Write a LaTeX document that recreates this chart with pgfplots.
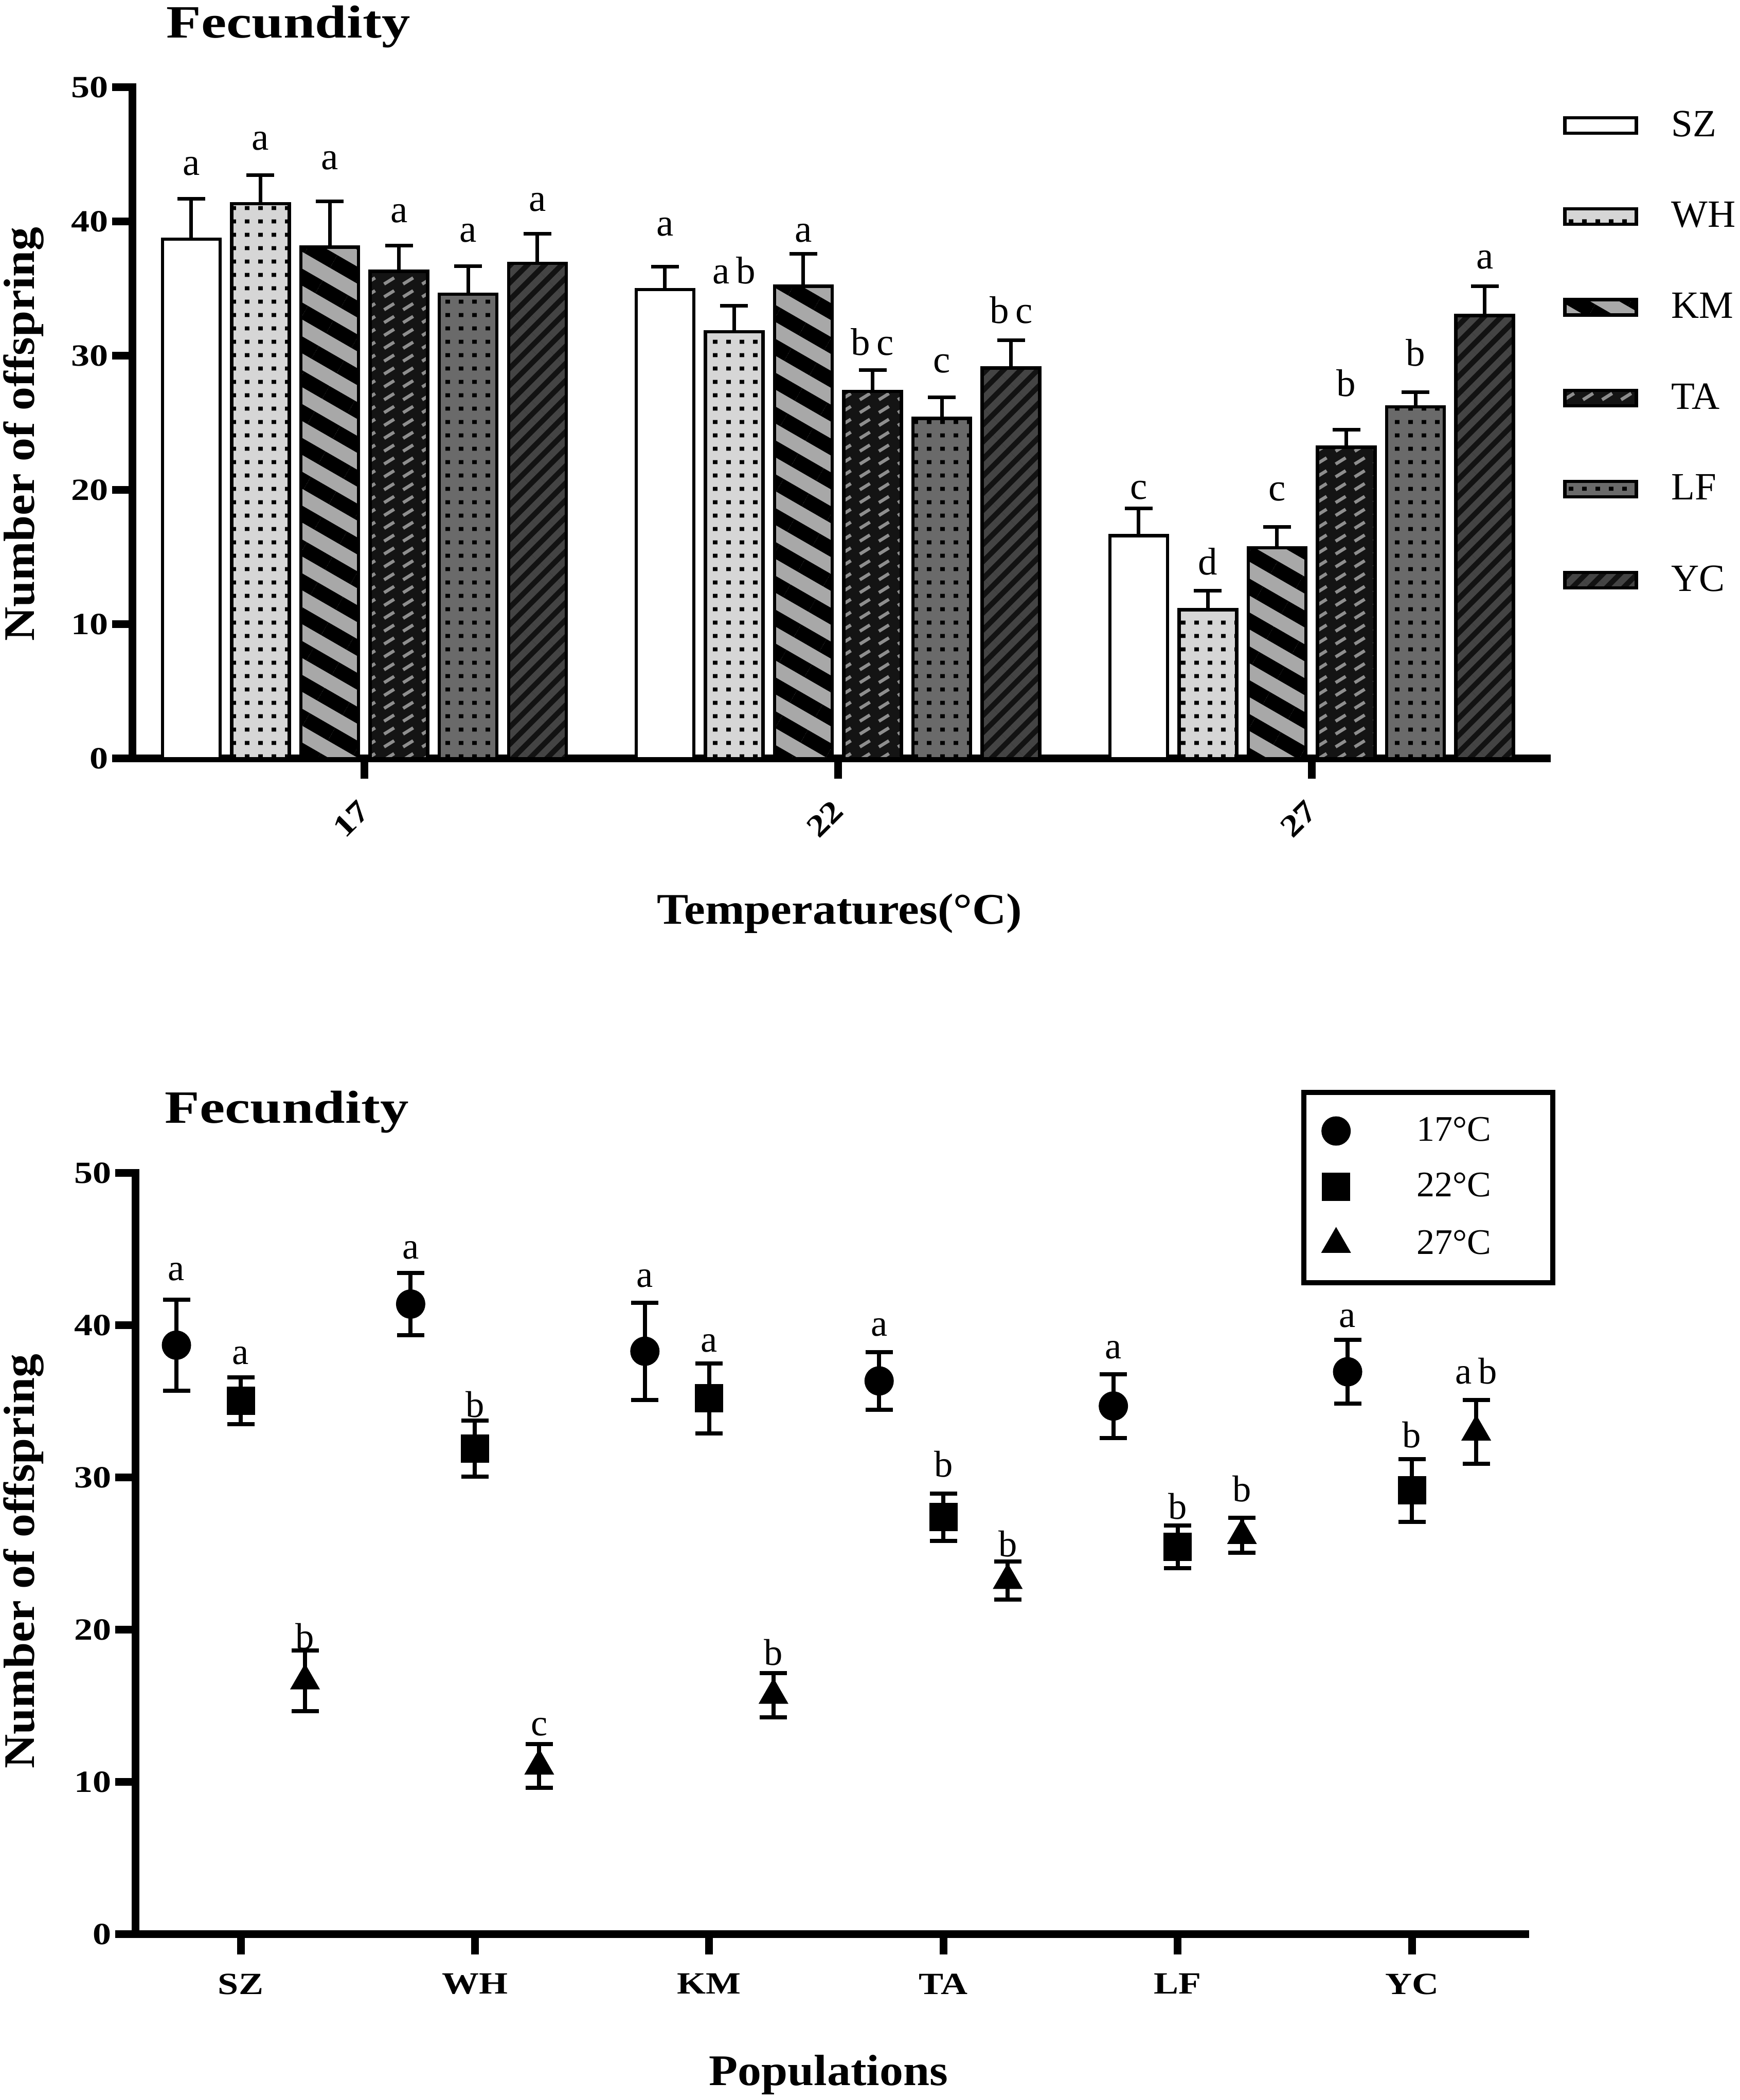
\documentclass[border=0pt]{standalone}
\usepackage{fontspec}
\setmainfont{Liberation Serif}
\newfontfamily\tickfont{Liberation Serif}[FakeStretch=1.2]
\newfontfamily\titlefont{Liberation Serif}[FakeStretch=1.23]
\newfontfamily\labfont{Liberation Serif}[FakeStretch=1.08]
\usepackage{pgfplots}
\pgfplotsset{compat=1.18}
\usetikzlibrary{patterns,patterns.meta}

\definecolor{whbg}{HTML}{D6D6D6}
\definecolor{kmgray}{HTML}{A8A8A8}
\definecolor{tabg}{HTML}{141414}
\definecolor{tadash}{HTML}{8E8E8E}
\definecolor{lfbg}{HTML}{6A6A6A}
\definecolor{ycbg}{HTML}{121212}
\definecolor{ycline}{HTML}{444444}

\tikzdeclarepattern{
  name=bardots, type=uncolored,
  bottom left={(0pt,0pt)}, top right={(5.2pt,5.2pt)},
  tile size={(5.2pt,5.2pt)},
  code={\fill (1.7pt,1.8pt) rectangle (3.5pt,3.4pt);}
}
\tikzdeclarepattern{
  name=tadashes, type=uncolored,
  bottom left={(0pt,0pt)}, top right={(7.4pt,5pt)},
  tile size={(7.4pt,5pt)},
  code={\draw[line width=1.3pt] (1.4pt,1.2pt) -- (5.4pt,3.7pt);}
}

\pgfplotsset{
 fec/.style={
  scale only axis, anchor=south west, ymin=0, ymax=50, ytick={0,10,...,50},
  axis x line*=bottom, axis y line*=left,
  axis line style={line width=3pt, line cap=rect, -},
  every outer x axis line/.append style={-},
  every outer y axis line/.append style={-},
  tick align=outside, major tick length=7.9pt,
  tick style={line width=3pt, black},
  tick label style={font=\tickfont\bfseries\fontsize{12}{14}\selectfont},
  yticklabel style={xshift=2pt},
  /pgf/number format/assume math mode=true,
  ylabel={Number of offspring},
  label style={font=\labfont\bfseries\fontsize{17}{20}\selectfont},
  clip=false,
 },
 barbase/.style={ybar, bar width=0.1216, bar shift=0pt, draw=black, line width=1.3pt,
   legend image code/.code={\draw[##1] (0pt,-3pt) rectangle (27.8pt,3pt);}},
 errtop/.style={forget plot, draw=none, mark=none, error bars/.cd, y dir=plus, y explicit,
   error bar style={line width=1.4pt, draw=black},
   error mark options={rotate=90, mark size=5.4pt, line width=1.4pt, black}},
 errbot/.style={error bars/.cd, y dir=both, y explicit,
   error bar style={line width=1.6pt, draw=black},
   error mark options={rotate=90, mark size=5.3pt, line width=1.6pt, black}},
 lettop/.style={forget plot, draw=none, mark=none, nodes near coords, point meta=explicit symbolic,
   every node near coord/.append style={anchor=base, inner sep=0pt, font=\fontsize{15}{17}\selectfont, black}},
 letbot/.style={forget plot, draw=none, mark=none, nodes near coords, point meta=explicit symbolic,
   every node near coord/.append style={anchor=base, inner sep=0pt, font=\fontsize{14.5}{17}\selectfont, black}},
}

\begin{document}
\begin{tikzpicture}
\useasboundingbox (0,0) rectangle (676.6pt,816.6pt);

% ---------------- top: bars ----------------
\begin{axis}[fec, width=549.8pt, height=261pt, at={(51.6pt,521.6pt)},
  xmin=-0.489, xmax=2.496, xtick={0,1,2}, xticklabels={17,22,27},
  xticklabel style={xshift=2.5pt, yshift=-8pt, rotate=45, anchor=east},
  xlabel={Temperatures(°C)},
  xlabel style={at={(axis description cs:0.5,-0.246)}, anchor=base},
  ylabel style={at={(axis description cs:-0.077,0.4835)}, anchor=center},
  legend cell align=left,
  legend style={at={(1.0113,0.966)}, anchor=north west, draw=none, fill=none,
    inner sep=0pt, row sep=24pt, column sep=13pt,
    font=\fontsize{15}{17}\selectfont, nodes={inner sep=0pt}},
]
\addplot[barbase, fill=white] coordinates {(-0.3653,38.7) (0.6347,34.95) (1.6347,16.6)};
\addlegendentry{SZ}
\addplot[barbase, preaction={fill=whbg}, pattern=bardots, pattern color=black]
  coordinates {(-0.2192,41.35) (0.7808,31.8) (1.7808,11.1)};
\addlegendentry{WH}
\addplot[barbase, preaction={fill=kmgray}, pattern={Lines[angle=-30,distance=11.4pt,line width=5.7pt]}, pattern color=black]
  coordinates {(-0.0731,38.1) (0.9269,35.2) (1.9269,15.7)};
\addlegendentry{KM}
\addplot[barbase, preaction={fill=tabg}, pattern=tadashes, pattern color=tadash]
  coordinates {(0.0731,36.3) (1.0731,27.35) (2.0731,23.2)};
\addlegendentry{TA}
\addplot[barbase, preaction={fill=lfbg}, pattern=bardots, pattern color=black]
  coordinates {(0.2192,34.6) (1.2192,25.35) (2.2192,26.2)};
\addlegendentry{LF}
\addplot[barbase, preaction={fill=ycbg}, pattern={Lines[angle=45,distance=4.7pt,line width=2.6pt]}, pattern color=ycline]
  coordinates {(0.3653,36.9) (1.3653,29.1) (2.3653,33.0)};
\addlegendentry{YC}

\addplot[errtop] coordinates {(-0.3653,38.7) +- (0,3.0) (0.6347,34.95) +- (0,1.7) (1.6347,16.6) +- (0,2.05)};
\addplot[errtop] coordinates {(-0.2192,41.35) +- (0,2.1) (0.7808,31.8) +- (0,1.95) (1.7808,11.1) +- (0,1.4)};
\addplot[errtop] coordinates {(-0.0731,38.1) +- (0,3.4) (0.9269,35.2) +- (0,2.4) (1.9269,15.7) +- (0,1.55)};
\addplot[errtop] coordinates {(0.0731,36.3) +- (0,1.9) (1.0731,27.35) +- (0,1.6) (2.0731,23.2) +- (0,1.3)};
\addplot[errtop] coordinates {(0.2192,34.6) +- (0,2.1) (1.2192,25.35) +- (0,1.55) (2.2192,26.2) +- (0,1.1)};
\addplot[errtop] coordinates {(0.3653,36.9) +- (0,2.2) (1.3653,29.1) +- (0,2.05) (2.3653,33.0) +- (0,2.2)};

\addplot[lettop] coordinates {(-0.3653,43.45) [a] (0.6347,38.95) [a] (1.6347,19.33) [c]};
\addplot[lettop] coordinates {(-0.2192,45.33) [a] (0.7808,35.38) [a\,b] (1.7808,13.7) [d]};
\addplot[lettop] coordinates {(-0.0731,43.9) [a] (0.9269,38.47) [a] (1.9269,19.2) [c]};
\addplot[lettop] coordinates {(0.0731,39.96) [a] (1.0731,30.04) [b\,c] (2.0731,27.0) [b]};
\addplot[lettop] coordinates {(0.2192,38.47) [a] (1.2192,28.77) [c] (2.2192,29.25) [b]};
\addplot[lettop] coordinates {(0.3653,40.77) [a] (1.3653,32.43) [b\,c] (2.3653,36.5) [a]};

\node[anchor=base west, inner sep=0pt, font=\titlefont\bfseries\fontsize{18}{20}\selectfont]
  at (rel axis cs:0.0236,1.0736) {Fecundity};
\end{axis}

% ---------------- bottom: points ----------------
\begin{axis}[fec, width=540.2pt, height=295.9pt, at={(52.8pt,64.5pt)},
  xmin=-0.448, xmax=5.483, xtick={0,1,2,3,4,5}, xticklabels={SZ,WH,KM,TA,LF,YC},
  xticklabel style={yshift=-4pt},
  xlabel={Populations},
  xlabel style={at={(axis description cs:0.4987,-0.199)}, anchor=base},
  ylabel style={at={(axis description cs:-0.0807,0.49)}, anchor=center},
  legend cell align=left,
  legend style={at={(0.839,1.1095)}, anchor=north west, draw=black, line width=2pt, fill=white,
    inner xsep=7pt, inner ysep=9.5pt, row sep=10.7pt, column sep=25.8pt,
    font=\fontsize{14}{16}\selectfont, nodes={inner sep=0pt}},
]
\addplot[only marks, mark=*, mark size=5.5pt, black, mark options={line width=0.4pt}, errbot]
  coordinates {(-0.2745,38.7) +- (0,3.0) (0.7255,41.4) +- (0,2.05) (1.7255,38.3) +- (0,3.2)
               (2.7255,36.35) +- (0,1.9) (3.7255,34.7) +- (0,2.1) (4.7255,36.95) +- (0,2.1)};
\addlegendentry{\makebox[46pt][l]{17°C}}
\addplot[only marks, mark=square*, mark size=5.3pt, black, mark options={line width=0.4pt}, errbot]
  coordinates {(0,35.05) +- (0,1.55) (1,31.9) +- (0,1.85) (2,35.2) +- (0,2.3)
               (3,27.4) +- (0,1.55) (4,25.45) +- (0,1.4) (5,29.15) +- (0,2.05)};
\addlegendentry{\makebox[46pt][l]{22°C}}
\addplot[only marks, mark=triangle*, mark size=6.3pt, black, mark options={line width=0.4pt}, errbot]
  coordinates {(0.2745,16.65) +- (0,2.0) (1.2745,11.05) +- (0,1.45) (2.2745,15.7) +- (0,1.45)
               (3.2745,23.25) +- (0,1.25) (4.2745,26.2) +- (0,1.15) (5.2745,33.0) +- (0,2.1)};
\addlegendentry{\makebox[46pt][l]{27°C}}

\addplot[letbot] coordinates {(-0.2745,42.95) [a] (0.7255,44.36) [a] (1.7255,42.53) [a]
  (2.7255,39.32) [a] (3.7255,37.82) [a] (4.7255,39.87) [a]};
\addplot[letbot] coordinates {(0,37.44) [a] (1,33.98) [b] (2,38.25) [a]
  (3,30.04) [b] (4,27.27) [b] (5,31.97) [b]};
\addplot[letbot] coordinates {(0.2745,18.72) [b] (1.2745,13.03) [c] (2.2745,17.66) [b]
  (3.2745,24.79) [b] (4.2745,28.42) [b] (5.2745,36.16) [a\,b]};

\node[anchor=base west, inner sep=0pt, font=\titlefont\bfseries\fontsize{18}{20}\selectfont]
  at (rel axis cs:0.0207,1.0656) {Fecundity};
\end{axis}
\end{tikzpicture}
\end{document}
